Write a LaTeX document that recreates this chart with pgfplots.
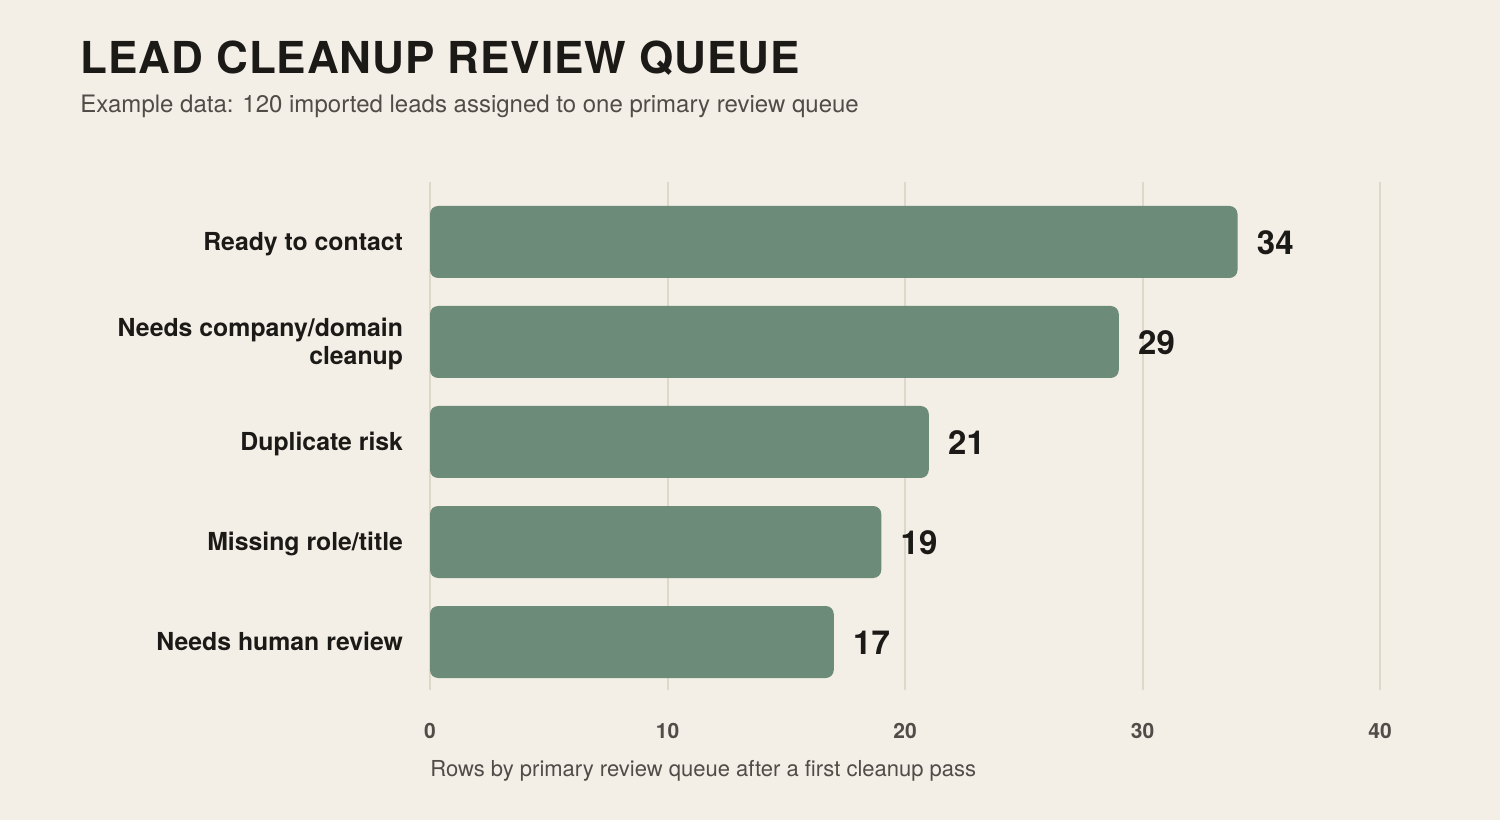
\documentclass[border=0pt]{standalone}
\usepackage{fontspec}
\setmainfont{TeX Gyre Heros}
\newfontfamily\titlefont[LetterSpace=2.2]{TeX Gyre Heros}
\usepackage{pgfplots}
\pgfplotsset{compat=1.18}

\definecolor{bg}{HTML}{F3EEE6}
\definecolor{bargreen}{HTML}{6C8B78}
\definecolor{gridc}{HTML}{DDD8CA}
\definecolor{ink}{HTML}{1C1A17}
\definecolor{subgray}{HTML}{514C47}

\begin{document}
\begin{tikzpicture}
\fill[bg] (0pt,0pt) rectangle (750pt,410pt);
\useasboundingbox (0pt,0pt) rectangle (750pt,410pt);
\node[anchor=base west, inner sep=0, text=ink,
      font=\titlefont\bfseries\fontsize{22}{26}\selectfont] at (40pt,373pt)
      {LEAD CLEANUP REVIEW QUEUE};
\node[anchor=base west, inner sep=0, text=subgray,
      font=\fontsize{12}{14}\selectfont] at (40pt,353.5pt)
      {Example data: 120 imported leads assigned to one primary review queue};
\begin{axis}[
  at={(215pt,65pt)}, anchor=south west,
  width=475pt, height=254pt, scale only axis,
  xmin=0, xmax=40, ymin=-0.48, ymax=4.6,
  enlargelimits=false, clip=false,
  xbar, bar width=0.72,
  axis line style={draw=none},
  tick style={draw=none}, major tick length=0pt,
  xtick={0,10,20,30,40},
  ytick={0,1,2,3,4},
  yticklabels={Needs human review\strut, Missing role/title\strut,
               Duplicate risk\strut,
               {Needs company/domain\strut\\cleanup\strut}, Ready to contact\strut},
  xmajorgrids, ymajorgrids=false,
  major grid style={gridc, line width=1pt},
  /pgf/number format/assume math mode=true,
  xticklabel style={anchor=base, inner sep=0pt, yshift=-24pt,
                    font=\bfseries\fontsize{10.5}{12}\selectfont, text=subgray},
  yticklabel style={anchor=east, inner sep=0pt, xshift=-13.3pt, yshift=-1.4pt,
                    align=right,
                    font=\bfseries\fontsize{12.4}{14}\selectfont, text=ink},
  xlabel={Rows by primary review queue after a first cleanup pass},
  xlabel style={at={(axis description cs:0,0)}, anchor=base west, inner sep=0pt,
                yshift=-43pt, font=\fontsize{11}{13}\selectfont, text=subgray},
  nodes near coords,
  point meta=explicit,
  every node near coord/.append style={anchor=west, inner sep=0pt, xshift=9.5pt,
                    yshift=-0.4pt,
                    font=\bfseries\fontsize{16.5}{18}\selectfont, text=ink},
]
\addplot[fill=bargreen, draw=none, rounded corners=4pt] coordinates {
  (17,0) [17]
  (19,1) [19]
  (21,2) [21]
  (29,3) [29]
  (34,4) [34]
};
\end{axis}
\end{tikzpicture}
\end{document}
